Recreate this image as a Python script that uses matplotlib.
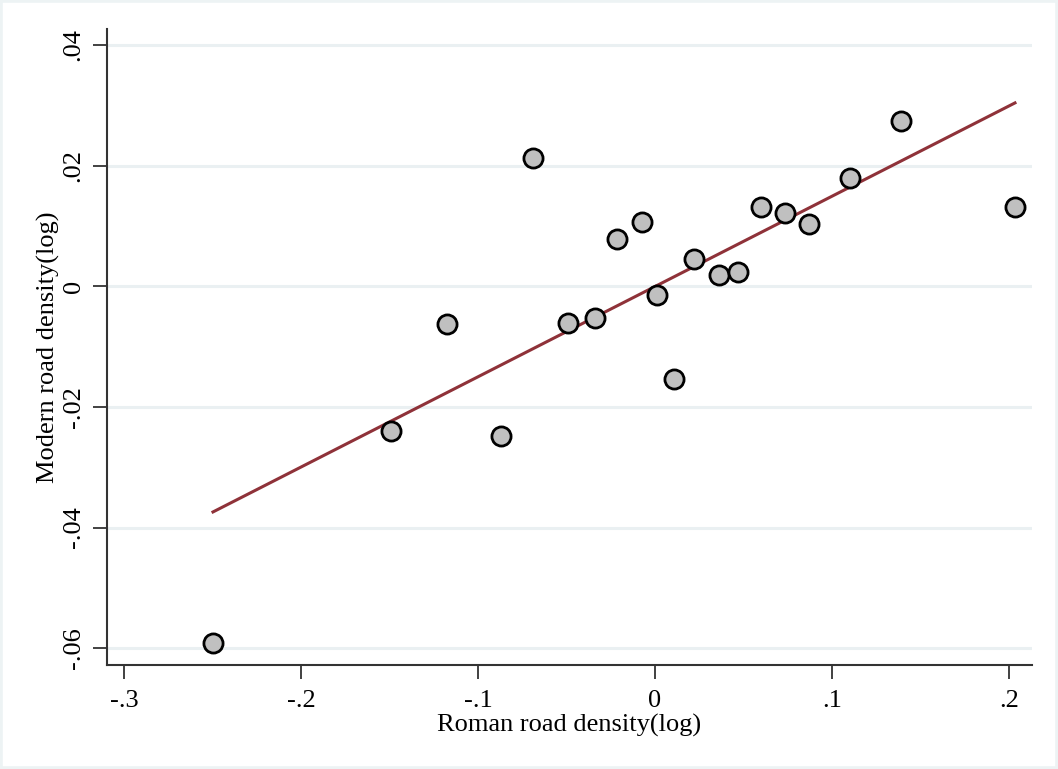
import numpy as np
import matplotlib.pyplot as plt
from matplotlib.patches import Rectangle

# 数据
roman_density = [-0.2497, -0.1492, -0.1175, -0.0870, -0.0689, -0.0492, -0.0339,
                 -0.0215, -0.0073, 0.0011, 0.0107, 0.0220, 0.0362, 0.0469,
                 0.0599, 0.0734, 0.0870, 0.1102, 0.1390, 0.2034]
modern_density = [-0.0592, -0.0240, -0.00634, -0.0248, 0.02126, -0.0061, -0.0053,
                  0.0078, 0.01065, -0.00146, -0.0154, 0.0045, 0.00186, 0.00236,
                  0.01314, 0.01214, 0.0103, 0.01795, 0.0274, 0.01313]
x_ticks = [-0.3, -0.2, -0.1, 0, 0.1, 0.2]
x_tick_labels = ["-.3", "-.2", "-.1", "0", ".1", ".2"]
y_ticks = [-0.06, -0.04, -0.02, 0, 0.02, 0.04]
y_tick_labels = ["-.06", "-.04", "-.02", "0", ".02", ".04"]

plt.rcParams['font.family'] = ['Liberation Serif', 'DejaVu Serif']

fig = plt.figure(figsize=(10.58, 7.69), dpi=100)
fig.patch.set_facecolor("white")
# 外框（Stata风格的浅色边）
fig.patches.append(Rectangle((0, 0), 1, 1, transform=fig.transFigure, fill=False,
                             edgecolor="#edf3f4", linewidth=4))

ax = fig.add_axes([0.1011, 0.1352, 0.9754 - 0.1011, 0.9623 - 0.1352])

x = np.array(roman_density)
y = np.array(modern_density)

# 线性拟合
slope, intercept = np.polyfit(x, y, 1)
xs = np.array([x.min(), x.max()])
ax.plot(xs, slope * xs + intercept, color="#8f3239", lw=2.2, zorder=2)

ax.scatter(x, y, s=190, facecolor="#c0c0c0", edgecolor="black", linewidth=2, zorder=3)

ax.set_xlim(-0.3096, 0.213)
ax.set_ylim(-0.0628, 0.04265)

ax.set_xticks(x_ticks)
ax.set_xticklabels(x_tick_labels, fontsize=19)
ax.set_yticks(y_ticks)
ax.set_yticklabels(y_tick_labels, fontsize=19, rotation=90, va="center")

ax.tick_params(axis="both", direction="out", length=10, width=1.3, color="#333333")
ax.tick_params(axis="x", pad=8)
ax.tick_params(axis="y", pad=6)

for side in ["top", "right"]:
    ax.spines[side].set_visible(False)
for side in ["left", "bottom"]:
    ax.spines[side].set_color("#333333")
    ax.spines[side].set_linewidth(1.5)

ax.yaxis.grid(True, color="#eaf0f2", linewidth=2.2)
ax.set_axisbelow(True)

ax.set_xlabel("Roman road density(log)", fontsize=19, labelpad=1)
ax.set_ylabel("Modern road density(log)", fontsize=19, labelpad=2)

plt.savefig("out.png", dpi=100)
